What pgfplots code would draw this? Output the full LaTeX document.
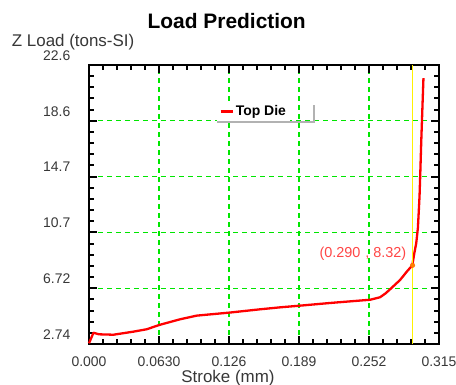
\documentclass[border=0pt]{standalone}
\usepackage{fontspec}
\setmainfont{Liberation Sans}
\usepackage{pgfplots}
\pgfplotsset{compat=1.18}
\definecolor{gridgreen}{RGB}{0,230,0}
\definecolor{curvered}{RGB}{255,0,0}
\definecolor{annred}{RGB}{255,70,70}
\definecolor{txtgray}{RGB}{55,55,55}
\begin{document}
\begin{tikzpicture}
\path[use as bounding box] (-89bp,-41bp) rectangle (367bp,344bp);
\begin{axis}[
  at={(0,0)}, anchor=south west,
  scale only axis, width=350bp, height=279bp,
  xmin=0, xmax=0.315, ymin=2.74, ymax=22.6,
  xtick={0,0.063,0.126,0.189,0.252,0.315},
  xticklabels={0.000,0.0630,0.126,0.189,0.252,0.315},
  ytick={2.74,6.712,10.684,14.656,18.628,22.6},
  yticklabels={2.74,6.72,10.7,14.7,18.6,22.6},
  minor x tick num=4, minor y tick num=4,
  tick align=inside,
  major tick length=8bp, minor tick length=5bp,
  tick style={draw=black, line width=2bp},
  axis line style={black, line width=1.6bp},
  grid=major,
  grid style={draw=gridgreen, dash pattern=on 5bp off 4bp, line width=1.2bp},
  /pgf/number format/assume math mode=true,
  ticklabel style={font=\fontsize{14}{16}\selectfont, text=txtgray, inner sep=0pt},
  xticklabel style={anchor=north, yshift=-12.5bp},
  yticklabel style={anchor=east, xshift=-18.5bp, yshift=9.5bp},
  legend style={at={(rel axis cs:0.366,0.796)}, anchor=south west, draw=none, fill=white,
    font=\bfseries\fontsize{14}{16}\selectfont, inner xsep=2bp, inner ysep=2.5bp},
  legend image code/.code={\draw[curvered, line width=2.5bp] (0bp,0bp) -- (12bp,0bp);},
  clip=false,
]
\addplot[curvered, line width=2.3bp, line join=round] coordinates {
(0,2.79) (0.004,3.54) (0.009,3.43) (0.022,3.40) (0.040,3.62) (0.052,3.79)
(0.063,4.09) (0.082,4.50) (0.097,4.76) (0.127,4.98) (0.154,5.21) (0.172,5.35)
(0.190,5.47) (0.217,5.66) (0.253,5.89) (0.262,6.07) (0.267,6.35) (0.272,6.71)
(0.280,7.30) (0.286,7.89) (0.291,8.34) (0.2925,9.08) (0.2945,9.91) (0.2960,11.0)
(0.2968,12.2) (0.2975,13.3) (0.2982,15.0) (0.2990,17.1) (0.3000,19.4) (0.3010,21.66)
};
\addlegendentry{Top Die\hspace{21bp}}
\addplot[yellow, line width=1.1bp, forget plot] coordinates {(0.2912,2.74) (0.2912,22.6)};
\addplot[only marks, mark=*, mark size=2.3bp, mark options={fill=orange, draw=orange!80!red}, forget plot] coordinates {(0.2912,8.34)};
\end{axis}
\draw[gray!60, line width=1.2bp] (128bp,222bp) -- (225bp,222bp) -- (225bp,239bp);
\node[anchor=east, text=annred, inner sep=0pt, font=\fontsize{14.5}{16}\selectfont] at (317.5bp,90.7bp) {(0.290\,\,, 8.32)};
\node[font=\bfseries\fontsize{21}{24}\selectfont, inner sep=0pt] at (137.7bp,323.3bp) {Load Prediction};
\node[anchor=base west, text=txtgray, inner sep=0pt, font=\fontsize{17}{19}\selectfont] at (-77.3bp,297.3bp) {Z Load (tons-SI)};
\node[anchor=base, text=txtgray, inner sep=0pt, font=\fontsize{17}{19}\selectfont] at (139bp,-38.5bp) {Stroke (mm)};
\end{tikzpicture}
\end{document}
